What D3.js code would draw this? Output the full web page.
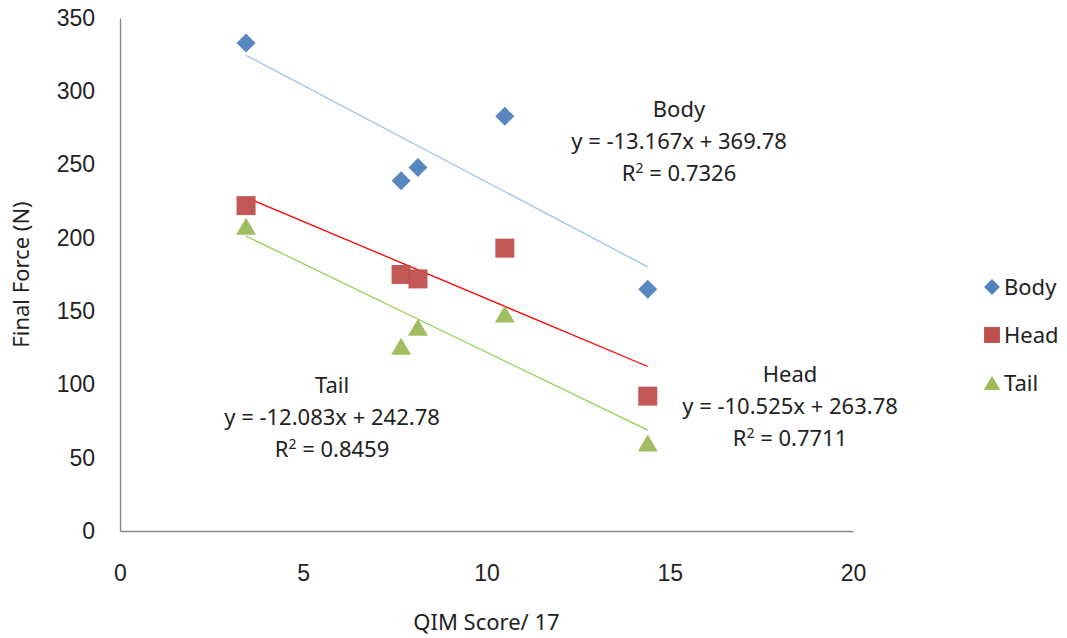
<!DOCTYPE html>
<html>
<head>
<meta charset="utf-8">
<script src="https://cdn.jsdelivr.net/npm/d3@7"></script>
<style>
  body { margin: 0; background: #fff; }
  svg { font-family: "Noto Sans", "Open Sans", sans-serif; }
</style>
</head>
<body>
<div id="chart"></div>
<script>
// data
const qimScores = [3.44, 7.67, 8.13, 10.5, 14.4];
const bodyForce = [333, 239, 248, 283, 165];
const headForce = [222, 175, 172, 193, 92];
const tailForce = [208, 126, 139, 148, 60];
const xTicks = [0, 5, 10, 15, 20];
const yTicks = [0, 50, 100, 150, 200, 250, 300, 350];

// flat triangle like the spreadsheet marker (width w, height ~0.85w)
const flatTriangle = {
  draw(ctx, size) {
    const w = Math.sqrt(size);
    const h = w * 0.85;
    ctx.moveTo(0, -h / 2);
    ctx.lineTo(w / 2, h / 2);
    ctx.lineTo(-w / 2, h / 2);
    ctx.closePath();
  }
};

const series = [
  { name: 'Body', values: bodyForce, color: '#4f81bd', trend: '#9dc3e6', shape: d3.symbolSquare, rot: 45, size: 180, slope: -13.167, icept: 369.78, r2: '0.7326', labelAt: [679, 109] },
  { name: 'Head', values: headForce, color: '#c0504d', trend: '#ff0000', shape: d3.symbolSquare, rot: 0, size: 361, slope: -10.525, icept: 263.78, r2: '0.7711', labelAt: [790, 374] },
  { name: 'Tail', values: tailForce, color: '#9bbb59', trend: '#92d050', shape: flatTriangle, rot: 0, size: 400, slope: -12.083, icept: 242.78, r2: '0.8459', labelAt: [332, 385] }
];

const width = 1067, height = 638;
const margin = { top: 18, right: 214, bottom: 107, left: 120 };
const fontSize = 22;

const svg = d3.select('#chart').append('svg')
  .attr('width', width)
  .attr('height', height);

const x = d3.scaleLinear().domain([0, 20]).range([margin.left, width - margin.right]);
const y = d3.scaleLinear().domain([0, 350]).range([height - margin.bottom, margin.top]);

// axes
const xAxis = svg.append('g')
  .attr('transform', `translate(0,${y(0)})`)
  .call(d3.axisBottom(x).tickValues(xTicks).tickSize(0).tickPadding(34));
const yAxis = svg.append('g')
  .attr('transform', `translate(${x(0)},0)`)
  .call(d3.axisLeft(y).tickValues(yTicks).tickSize(0).tickPadding(25));

[xAxis, yAxis].forEach(a => {
  a.select('.domain').attr('stroke', '#868686').attr('stroke-width', 1.3);
  a.selectAll('text').attr('font-size', 23).attr('fill', '#222').attr('font-family', null);
});

svg.append('text')
  .attr('x', x(10))
  .attr('y', 630)
  .attr('text-anchor', 'middle')
  .attr('font-size', fontSize)
  .attr('fill', '#222')
  .text('QIM Score/ 17');

svg.append('text')
  .attr('transform', `translate(29,${y(175)}) rotate(-90)`)
  .attr('text-anchor', 'middle')
  .attr('font-size', fontSize)
  .attr('fill', '#222')
  .text('Final Force (N)');

// trendlines
const xMin = d3.min(qimScores), xMax = d3.max(qimScores);
series.forEach(s => {
  svg.append('line')
    .attr('x1', x(xMin)).attr('y1', y(s.slope * xMin + s.icept))
    .attr('x2', x(xMax)).attr('y2', y(s.slope * xMax + s.icept))
    .attr('stroke', s.trend)
    .attr('stroke-width', 1.3);
});

// markers
series.forEach(s => {
  svg.append('g').selectAll('path')
    .data(s.values)
    .join('path')
    .attr('transform', (d, i) => `translate(${x(qimScores[i])},${y(d)}) rotate(${s.rot})`)
    .attr('d', d3.symbol().type(s.shape).size(s.size))
    .attr('fill', s.color)
    .attr('fill-opacity', 0.95);
});

// trendline labels
series.forEach(s => {
  const t = svg.append('text')
    .attr('text-anchor', 'middle')
    .attr('font-size', fontSize)
    .attr('fill', '#222');
  const lines = [s.name, `y = ${s.slope}x + ${s.icept}`];
  lines.forEach((l, i) => {
    t.append('tspan').attr('x', s.labelAt[0]).attr('y', s.labelAt[1] + i * 32 + 8).text(l);
  });
  const r = t.append('tspan').attr('x', s.labelAt[0]).attr('y', s.labelAt[1] + 64 + 8);
  r.append('tspan').text('R');
  r.append('tspan').attr('dy', -8).attr('font-size', 14).text('2');
  r.append('tspan').attr('dy', 8).text(` = ${s.r2}`);
});

// legend
const legend = svg.append('g').attr('transform', 'translate(992,287)');
series.forEach((s, i) => {
  const row = legend.append('g').attr('transform', `translate(0,${i * 48})`);
  row.append('path')
    .attr('transform', `rotate(${s.rot})`)
    .attr('d', d3.symbol().type(s.shape).size(s.size * 0.7))
    .attr('fill', s.color);
  row.append('text')
    .attr('x', 12)
    .attr('y', 8)
    .attr('font-size', fontSize)
    .attr('fill', '#222')
    .text(s.name);
});
</script>
</body>
</html>
